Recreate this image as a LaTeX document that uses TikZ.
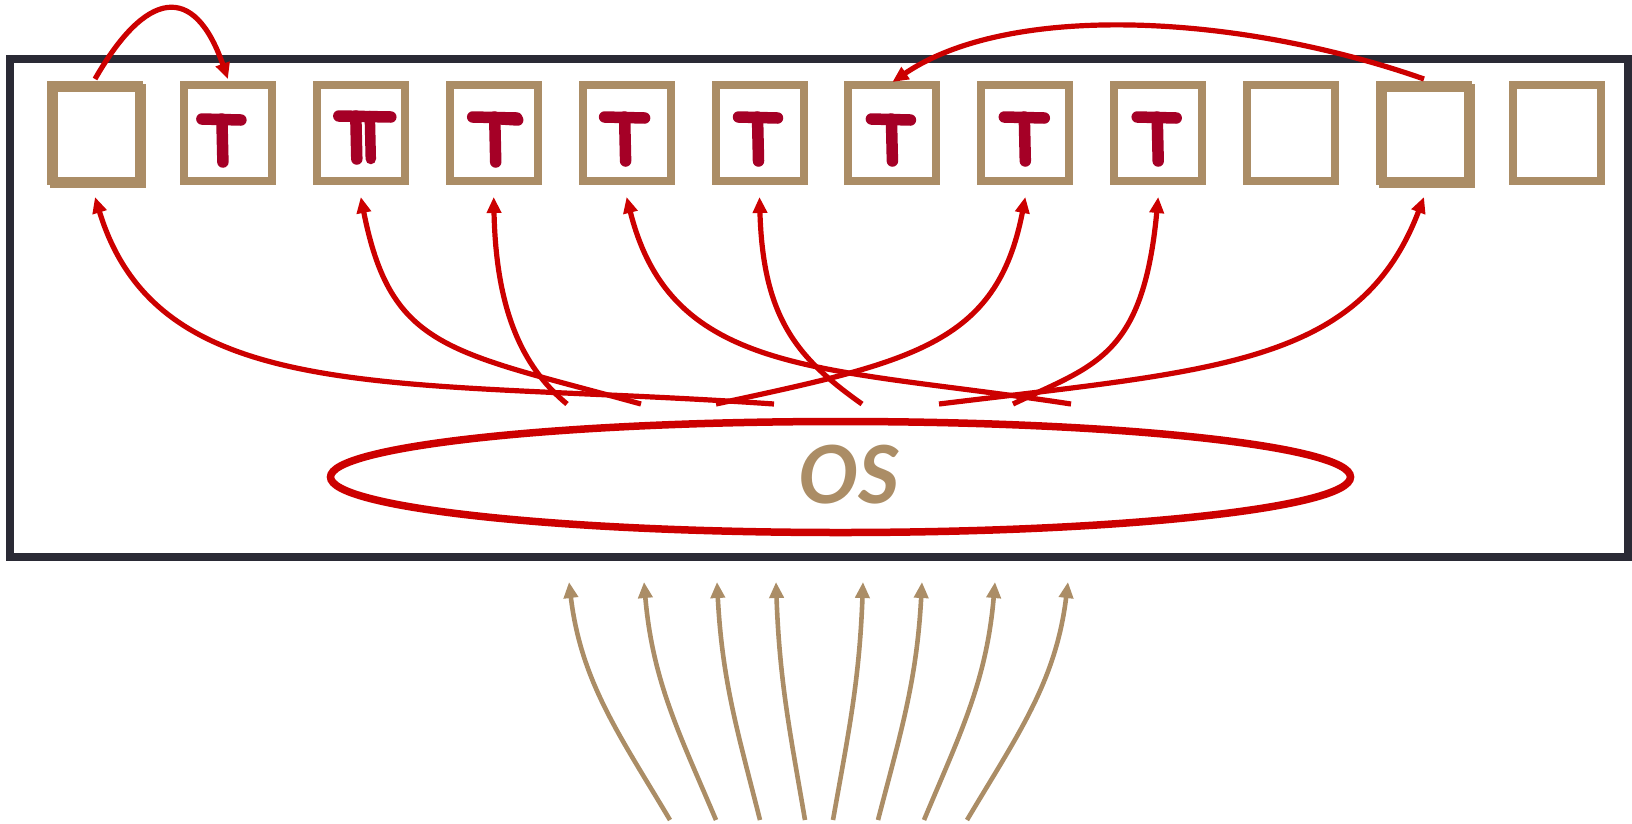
\documentclass[tikz,border=0pt]{standalone}
\usepackage{fontspec}
\setmainfont{Lato}
\usetikzlibrary{arrows.meta,shapes.geometric}
\definecolor{frameink}{HTML}{2A2A35}
\definecolor{sand}{HTML}{AB8D66}
\definecolor{signal}{HTML}{CC0000}
\definecolor{teeink}{HTML}{A50026}
% hand-drawn "T": bar from #2 to #3 at height #4, stem at #5 down to #6 (offsets from slot centre)
\newcommand\drawtee[6]{%
  \draw[tee] ([shift={(#2,#4)}]#1.center) -- ([shift={(#3,#4+1)}]#1.center);
  \draw[tee] ([shift={(#5,#4)}]#1.center) -- ([shift={(#5+1,#6)}]#1.center);}
\begin{document}
\begin{tikzpicture}[x=1pt,y=-1pt,
  slot/.style={draw=sand, line width=8pt, minimum width=88pt, minimum height=96pt,
               inner sep=0pt, outer sep=0pt},
  tee/.style={draw=teeink, line width=11.5pt, line cap=round},
  sched/.style={draw=signal, line width=5.2pt, -{Triangle[length=16pt,width=14pt]}},
  feed/.style={draw=sand, line width=4.6pt, -{Triangle[length=16pt,width=14pt]}},
]
\useasboundingbox (0,0) rectangle (1632,823);

% machine frame
\node[draw=frameink, line width=8pt, minimum width=1618pt, minimum height=497.5pt,
      inner sep=0pt, outer sep=0pt] (host) at (819,307.75) {};

% row of slots
\foreach \i in {1,...,12}
  \node[slot] (b\i) at ({95+132.9*(\i-1)},133) {};
\node[slot] (b1s) at (98,136) {};
\node[slot] (b11s) at (1427,136) {};

% threads
\drawtee{b2}{-26}{13}{-14}{-6}{29}
\drawtee{b3}{-22}{30}{-17}{-5}{26}
\draw[tee, line width=10.5pt] ([shift={(9,-17)}]b3.center) -- ([shift={(10,26)}]b3.center);
\drawtee{b4}{-21}{23}{-16}{1}{29}
\draw[tee] ([shift={(8,-14)}]b4.center) -- ([shift={(24,-13)}]b4.center);
\drawtee{b5}{-22}{18}{-16}{-2}{28}
\drawtee{b6}{-21}{18}{-16}{-2}{28}
\drawtee{b7}{-21}{18}{-14}{-1}{28}
\drawtee{b8}{-21}{19}{-16}{-1}{28}
\drawtee{b9}{-21}{18}{-16}{-1}{28}

% operating system
\node[draw=signal, line width=7.5pt, ellipse, minimum width=1020pt, minimum height=111pt,
      inner sep=0pt] (osring) at (840.5,477) {};
\node[text=sand, font=\fontsize{80}{82}\selectfont\bfseries\itshape, inner sep=0pt]
      (oslabel) at (849,475) {OS};

% scheduling arrows from the OS to the slots
\coordinate (t1) at (774,404);
\coordinate (t3) at (641,404);
\coordinate (t4) at (567,404);
\coordinate (t5) at (1071,404);
\coordinate (t6) at (862,404);
\coordinate (t8) at (716,404);
\coordinate (t9) at (1013,404);
\coordinate (t11) at (939,404);
\draw[sched] (t1) .. controls (400,378) and (160,410) .. ([yshift=-16pt]b1.south);
\draw[sched] (t3) .. controls (449,351) and (391,350) .. ([yshift=-16pt]b3.south);
\draw[sched] (t4) .. controls (521,366) and (496,308) .. ([yshift=-16pt]b4.south);
\draw[sched] (t5) .. controls (824,366) and (672,378) .. ([yshift=-16pt]b5.south);
\draw[sched] (t6) .. controls (797,358) and (763,318) .. ([yshift=-16pt]b6.south);
\draw[sched] (t8) .. controls (911,362) and (997,345) .. ([yshift=-16pt]b8.south);
\draw[sched] (t9) .. controls (1094,365) and (1143,358) .. ([yshift=-16pt]b9.south);
\draw[sched] (t11) .. controls (1217,370) and (1360,365) .. ([yshift=-16pt]b11.south);

% moves between slots
\draw[sched] ([yshift=6pt]b1.north) .. controls (146,-10) and (194,-18) .. ([yshift=6pt]b2.north);
\draw[sched] ([yshift=6pt]b11.north) .. controls (1239,14) and (1010,2) .. ([yshift=3pt]b7.north);

% incoming work
\foreach \n/\xt/\xh in {1/670/569, 2/716/644, 3/760/717, 4/805/776,
                        5/833/863, 6/878/922, 7/924/995, 8/967/1068} {
  \coordinate (f\n) at (\xt,820);
  \coordinate (g\n) at (\xh,582);
  \draw[feed] (f\n) .. controls ({\xt-0.5*(\xt-\xh)},735) and ({\xh+0.12*(\xt-\xh)},682) .. (g\n);
}
\end{tikzpicture}
\end{document}
